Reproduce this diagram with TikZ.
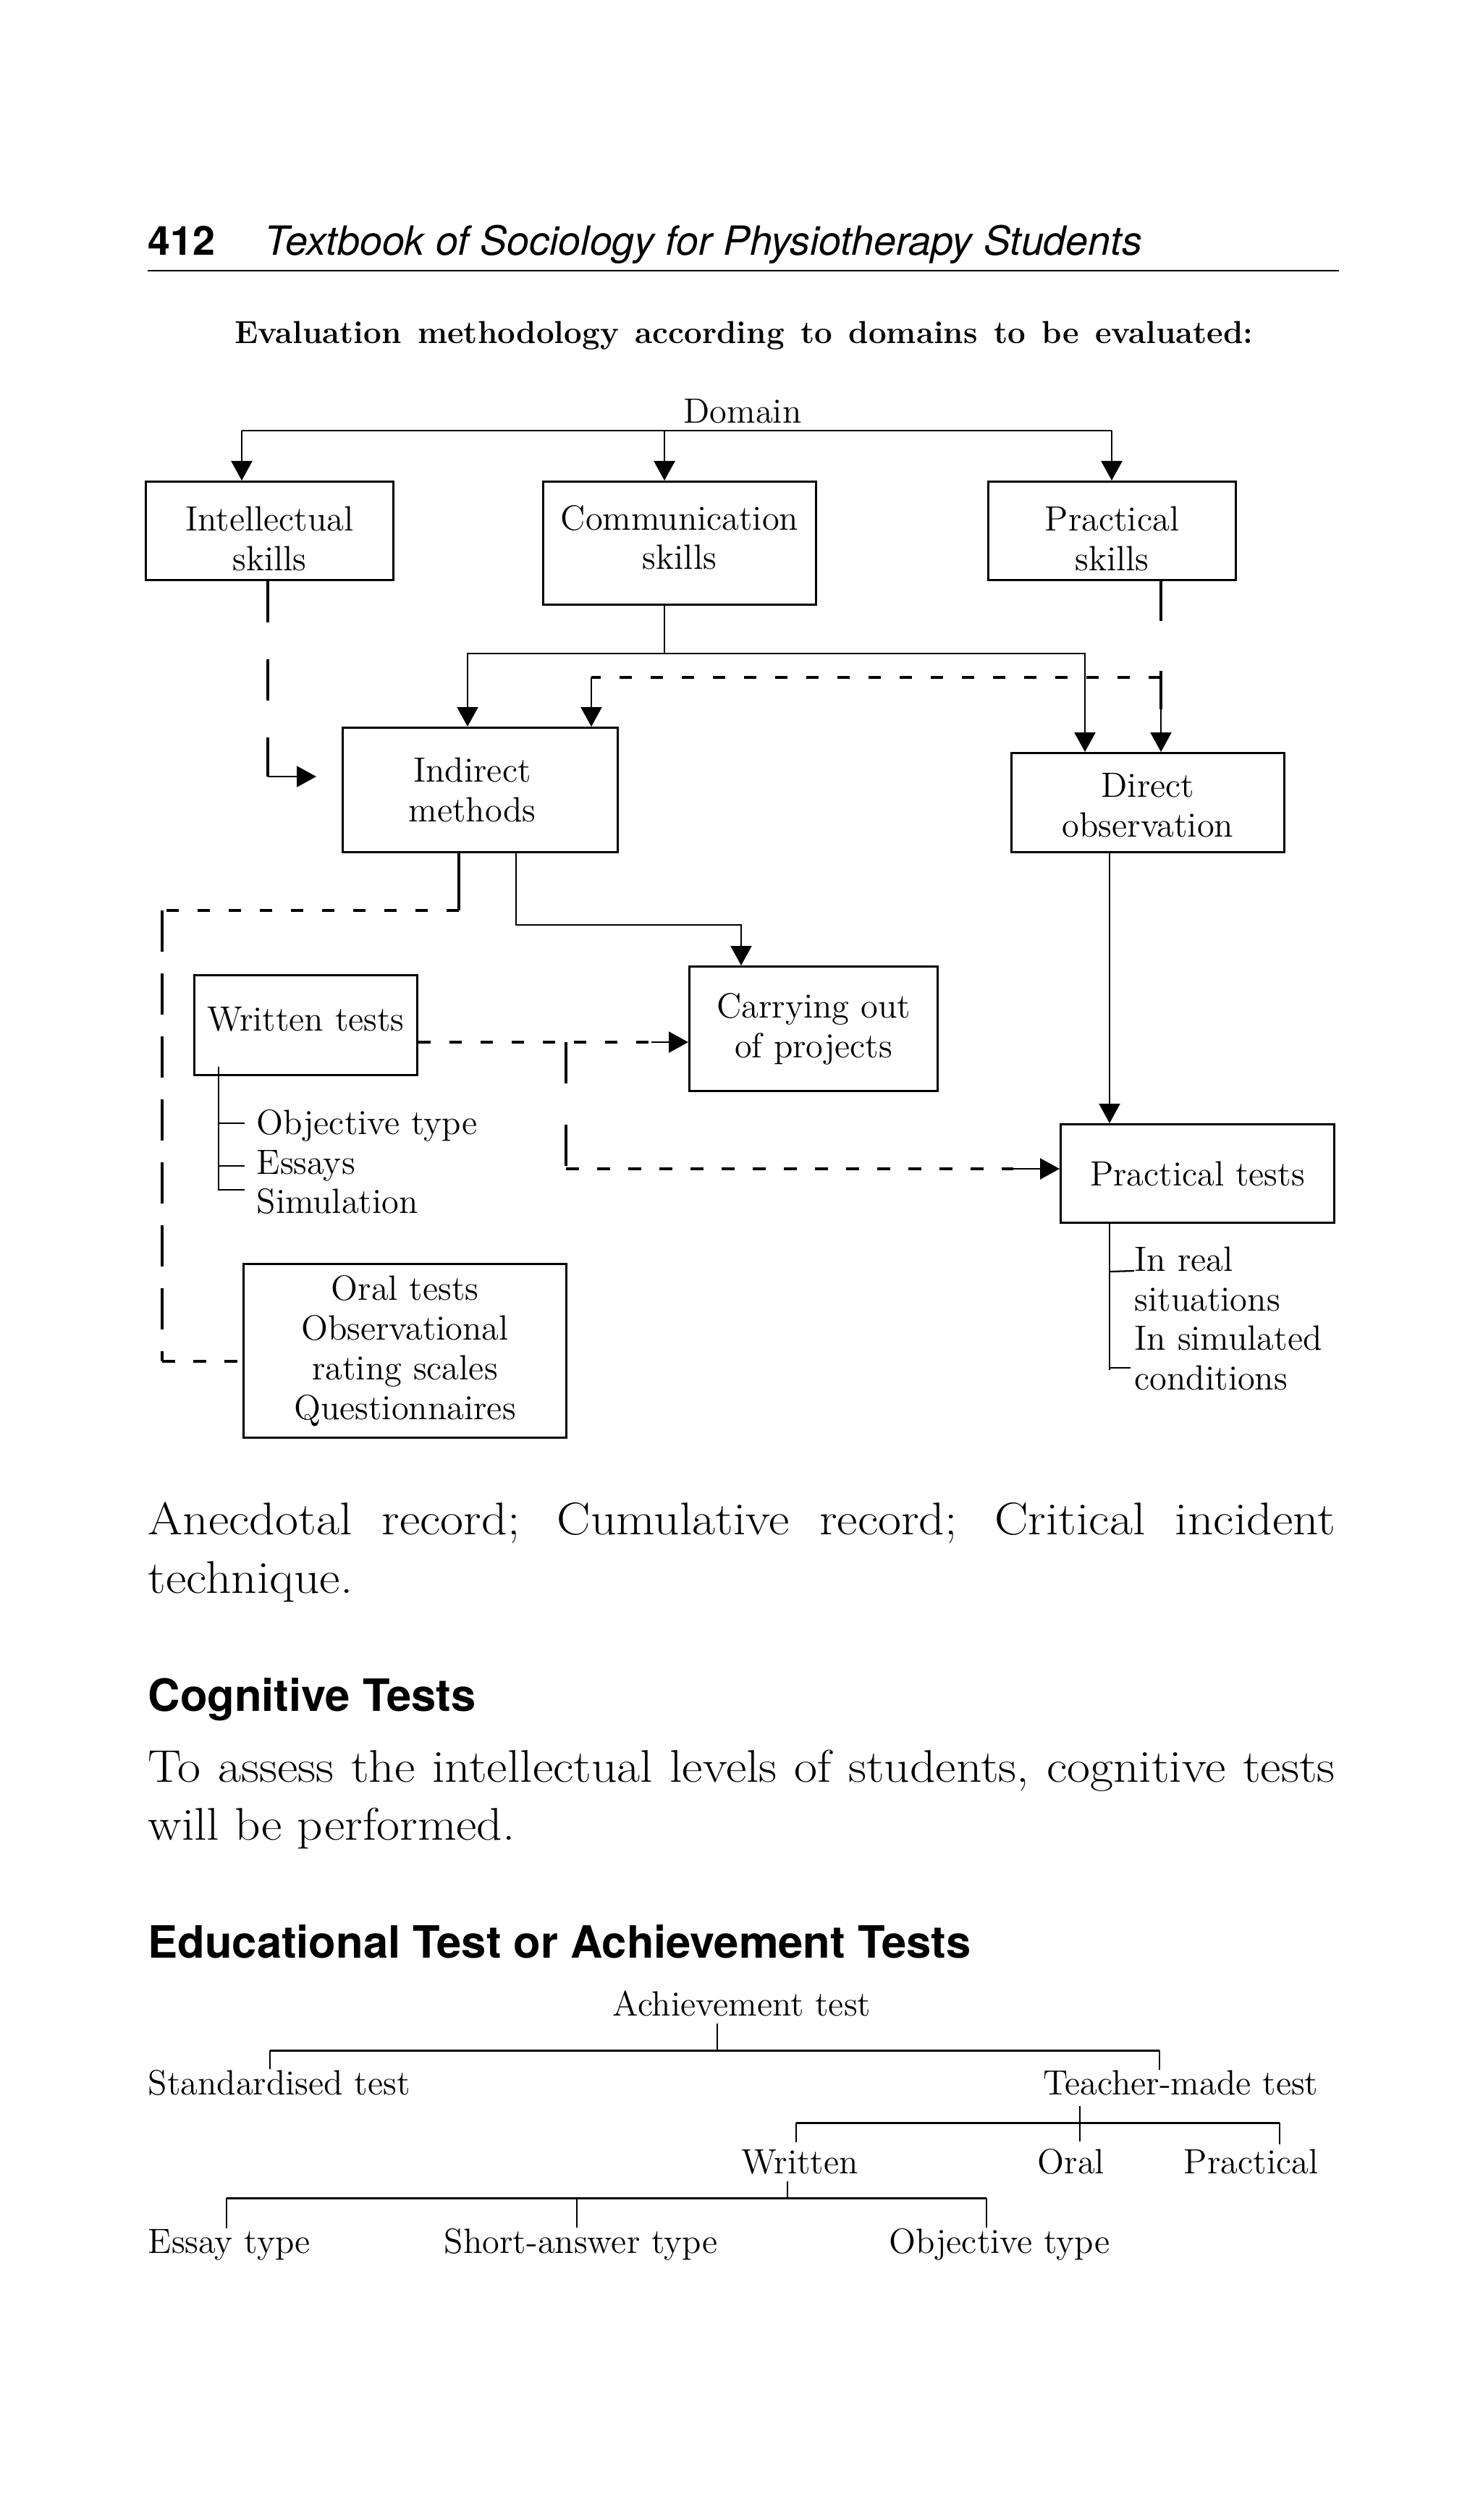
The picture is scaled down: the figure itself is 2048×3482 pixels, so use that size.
\documentclass[tikz,border=0pt]{standalone}
\usepackage{fontspec}
\newfontfamily\headsans{TeX Gyre Heros}
\newfontfamily\bodyfont[FakeStretch=1.1]{Latin Modern Roman}
\usetikzlibrary{arrows.meta, positioning}
\newcommand{\lowerby}[1]{\rule{0pt}{#1}}
\newcommand{\raiseby}[1]{\rule[-#1]{0pt}{#1}}
\tikzset{
  box/.style        = {rectangle, draw, line width=0.85pt, inner sep=0pt,
                       align=center, font=\fontsize{13.8}{15.6}\selectfont},
  lbl/.style        = {inner sep=0pt, font=\fontsize{13.8}{15.6}\selectfont},
  bodytext/.style   = {anchor=base west, inner sep=0pt, font=\bodyfont\fontsize{18}{23}\selectfont},
  headtext/.style   = {anchor=base west, inner sep=0pt,
                       font=\headsans\bfseries\fontsize{17.5}{20}\selectfont},
  link/.style       = {line width=0.65pt},
  arrow/.style      = {link, -{Triangle[length=2.7mm, width=2.9mm]}},
  thickline/.style  = {line width=1.15pt},
  shortdash/.style  = {thickline, dash pattern=on 1.75mm off 2.55mm},
  longdash/.style   = {thickline, dash pattern=on 5.7mm off 3mm},
  treeline/.style   = {line width=0.55pt},
  treebar/.style    = {line width=0.85pt}
}

\begin{document}
\begin{tikzpicture}[x=0.1mm, y=-0.1mm]
  \useasboundingbox (0,0) rectangle (2048,3482);
  % running head
  \node[anchor=base west, inner sep=0pt, font=\headsans\bfseries\fontsize{15.8}{19}\selectfont] (pageno) at (204,353) {412};
  \node[anchor=base west, inner sep=0pt, font=\headsans\itshape\fontsize{15.8}{19}\selectfont] (runhead) at (365,353) {Textbook of Sociology for Physiotherapy Students};
  \draw[line width=0.7pt] (204,374) -- (1850,374);
  \node[anchor=base, inner sep=0pt, font=\bfseries\fontsize{12.5}{15}\selectfont] (title) at (1028,475) {\makebox[140.7mm][s]{Evaluation methodology according to domains to be evaluated:}};

  % boxes
  \node[lbl, anchor=base] (domain) at (1026,585) {Domain};
  \node[box, anchor=north west, minimum width=34.2mm, minimum height=13.6mm] (intellect) at (200,664) {\lowerby{5.6mm}Intellectual\\skills};
  \node[box, anchor=north west, minimum width=37.7mm, minimum height=17mm] (commun) at (749,664) {Communication\\skills\raiseby{1.6mm}};
  \node[box, anchor=north west, minimum width=34.2mm, minimum height=13.6mm] (practical) at (1364,664) {\lowerby{5.6mm}Practical\\skills};
  \node[box, anchor=north west, minimum width=38mm, minimum height=17.2mm] (indirect) at (472,1004) {Indirect\kern2.2mm\\methods\kern2.2mm};
  \node[box, anchor=north west, minimum width=37.7mm, minimum height=13.7mm] (direct) at (1396,1039) {\lowerby{4.1mm}Direct\\observation};
  \node[box, anchor=north west, minimum width=30.8mm, minimum height=13.8mm] (written) at (267,1346) {Written tests\raiseby{1.8mm}};
  \node[box, anchor=north west, minimum width=34.3mm, minimum height=17.2mm] (carrying) at (951,1334) {Carrying out\\of projects};
  \node[box, anchor=north west, minimum width=37.8mm, minimum height=13.6mm] (practests) at (1464,1552) {Practical tests};
  \node[box, anchor=north west, minimum width=44.6mm, minimum height=24mm] (oral) at (335,1745) {Oral tests\\Observational\\rating scales\\Questionnaires};

  % domain split
  \coordinate (dbarL) at (334,595);
  \coordinate (dbarM) at (918,595);
  \coordinate (dbarR) at (1536,595);
  \draw[link] (dbarL) -- (dbarR);
  \draw[arrow] (dbarL) -- (dbarL |- intellect.north);
  \draw[arrow] (dbarM) -- (dbarM |- commun.north);
  \draw[arrow] (dbarR) -- (dbarR |- practical.north);

  % communication split
  \coordinate (cbarM) at (918,903);
  \coordinate (cbarL) at (646,903);
  \coordinate (cbarR) at (1499,903);
  \draw[link] (commun.south -| cbarM) -- (cbarM);
  \draw[arrow] (cbarM) -| (indirect.north -| cbarL);
  \draw[arrow] (cbarM) -| (direct.north -| cbarR);

  % intellectual skills
  \coordinate (iturn) at (370,1073);
  \draw[thickline, dash pattern=on 5.7mm off 5.1mm] (intellect.south -| iturn) -- (iturn);
  \draw[arrow, shorten >=3.5mm] (iturn) -- (iturn -| indirect.west);

  % practical skills
  \coordinate (pturn) at (1604,980);
  \coordinate (pjoin) at (1604,936);
  \coordinate (pleft) at (817,936);
  \draw[thickline, dash pattern=on 5.5mm off 6.9mm] (practical.south -| pturn) -- (pturn);
  \draw[arrow] (pturn) -- (direct.north -| pturn);
  \draw[shortdash] (pjoin) -- (pleft);
  \draw[arrow] (pleft) -- (indirect.north -| pleft);

  % indirect methods to oral tests
  \coordinate (oA) at (634,1258);
  \coordinate (oB) at (224,1258);
  \coordinate (oC) at (224,1881);
  \draw[thickline] (indirect.south -| oA) -- (oA);
  \draw[shortdash] (oA) -- (oB);
  \draw[longdash] (oB) -- (oC);
  \draw[shortdash] (oC) -- (oC -| oral.west);

  % indirect methods to projects
  \coordinate (kA) at (713,1278);
  \coordinate (kB) at (1024,1278);
  \draw[arrow] (indirect.south -| kA) -- (kA) -- (kB) -- (kB |- carrying.north);

  % written tests
  \coordinate (wA) at (575,1440);
  \coordinate (wB) at (782,1440);
  \coordinate (wC) at (782,1615);
  \coordinate (wD) at (900,1440);
  \coordinate (wE) at (1400,1615);
  \draw[shortdash] (written.east |- wA) -- (wD);
  \draw[arrow] (wD) -- (wD -| carrying.west);
  \draw[thickline, dash pattern=on 5.7mm off 5.7mm] (wB) -- (wC);
  \draw[shortdash] (wC) -- (wE);
  \draw[arrow] (wE) -- (wE -| practests.west);

  \node[lbl, anchor=base west] (objtype) at (354,1567) {Objective type};
  \node[lbl, anchor=base west] (essays) at (354,1622) {Essays};
  \node[lbl, anchor=base west] (simul) at (354,1676) {Simulation};
  \coordinate (wt) at (302,1474);
  \coordinate (wtA) at (302,1552);
  \coordinate (wtB) at (302,1611);
  \coordinate (wtC) at (302,1644);
  \draw[link] (wt) -- (wtC) -- ++(36,0);
  \draw[link] (wtA) -- ++(36,0);
  \draw[link] (wtB) -- ++(36,0);

  % direct observation
  \coordinate (dA) at (1533,1176);
  \draw[arrow] (direct.south -| dA) -- (practests.north -| dA);

  \node[lbl, anchor=base west] (inreal) at (1567,1756) {In real};
  \node[lbl, anchor=base west] (realsit) at (1567,1811) {situations};
  \node[lbl, anchor=base west] (insim) at (1567,1865) {In simulated};
  \node[lbl, anchor=base west] (simcond) at (1567,1920) {conditions};
  \coordinate (ptA) at (1533,1757);
  \coordinate (ptB) at (1533,1890);
  \draw[link] (practests.south -| dA) -- ([yshift=-0.3mm]ptB);
  \draw[link] (ptA) -- (inreal.base west);
  \draw[link] (ptB) -- ++(29,0);

  % running text
  \node[bodytext] (anecA) at (204,2120) {\makebox[164mm][s]{Anecdotal record; Cumulative record; Critical incident}};
  \node[bodytext] (anecB) at (204,2201) {technique.};
  \node[headtext] (cognit) at (204,2364) {Cognitive Tests};
  \node[bodytext] (assessA) at (204,2462) {\makebox[164mm][s]{To assess the intellectual levels of students, cognitive tests}};
  \node[bodytext] (assessB) at (204,2542) {will be performed.};
  \node[headtext] (educ) at (204,2705) {Educational Test or Achievement Tests};

  % achievement test tree
  \node[lbl, anchor=base] (achieve) at (1025,2785) {Achievement test};
  \node[lbl, anchor=base west] (stdtest) at (204,2894) {Standardised test};
  \node[lbl, anchor=base east] (teacher) at (1822,2894) {Teacher-made test};
  \node[lbl, anchor=base west] (wrt) at (1024,3003) {Written};
  \node[lbl, anchor=base west] (orl) at (1433,3003) {Oral};
  \node[lbl, anchor=base east] (prc) at (1822,3003) {Practical};
  \node[lbl, anchor=base west] (essay) at (204,3113) {Essay type};
  \node[lbl, anchor=base west] (shortans) at (613,3113) {Short-answer type};
  \node[lbl, anchor=base west] (objective) at (1228,3113) {Objective type};

  \coordinate (abar) at (991,2833);
  \coordinate (abarL) at (373,2833);
  \coordinate (abarR) at (1602,2833);
  \draw[treeline] ([yshift=-1mm]achieve.south -| abar) -- (abar);
  \draw[treebar] (abarL) -- (abarR);
  \draw[treeline] (abarL) -- (abarL |- stdtest.north);
  \draw[treeline] (abarR) -- (abarR |- teacher.north);

  \coordinate (tbar) at (1492,2933);
  \coordinate (tbarL) at (1100,2933);
  \coordinate (tbarR) at (1768,2933);
  \draw[treeline] ([yshift=-1.5mm]teacher.south -| tbar) -- ([yshift=0.9mm]tbar |- orl.north);
  \draw[treebar] (tbarL) -- (tbarR);
  \draw[treeline] (tbarL) -- ([yshift=0.9mm]tbarL |- wrt.north);
  \draw[treeline] (tbarR) -- ([yshift=0.6mm]tbarR |- prc.north);

  \coordinate (wbar) at (1088,3037);
  \coordinate (wbarL) at (313,3037);
  \coordinate (wbarM) at (797,3037);
  \coordinate (wbarR) at (1363,3037);
  \draw[treeline] ([yshift=-0.9mm]wrt.south -| wbar) -- (wbar);
  \draw[treebar] (wbarL) -- (wbarR);
  \draw[treeline] (wbarL) -- (wbarL |- essay.north);
  \draw[treeline] (wbarM) -- (wbarM |- shortans.north);
  \draw[treeline] (wbarR) -- (wbarR |- objective.north);
\end{tikzpicture}
\end{document}
